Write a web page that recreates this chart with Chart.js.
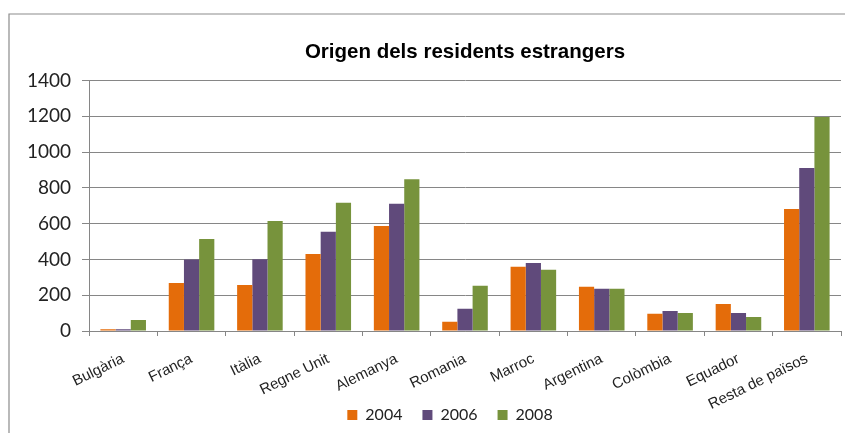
<!DOCTYPE html>
<html>
<head>
<meta charset="utf-8">
<script src="https://cdn.jsdelivr.net/npm/chart.js@4/dist/chart.umd.min.js"></script>
<style>
  html, body { margin: 0; padding: 0; background: #fff; }
  #wrap { width: 845px; height: 433px; position: relative; }
</style>
</head>
<body>
<div id="wrap"><canvas id="chart" width="845" height="433"></canvas></div>
<script>
// dades
const paisos = ["Bulgària", "França", "Itàlia", "Regne Unit", "Alemanya", "Romania",
  "Marroc", "Argentina", "Colòmbia", "Equador", "Resta de països"];
const anys = ["2004", "2006", "2008"];
const valors2004 = [10, 268, 257, 430, 587, 52, 359, 248, 97, 151, 682];
const valors2006 = [10, 400, 401, 555, 711, 125, 380, 236, 112, 101, 911];
const valors2008 = [61, 514, 615, 717, 849, 253, 343, 236, 101, 78, 1197];
const ticksY = [0, 200, 400, 600, 800, 1000, 1200, 1400];

const colors = ["#E46C0A", "#604A7B", "#77933C"];
const gridColor = "#868686";

// marc exterior del gràfic
const framePlugin = {
  id: "frame",
  afterLayout(chart) {
    // les etiquetes girades es retallen a la caixa de l'eix: l'allarguem
    chart.scales.x.bottom = chart.height;
    // llegenda una mica cap a l'esquerra, com l'original
    chart.legend.left -= 15;
    chart.legend.right -= 15;
  },
  beforeDraw(chart) {
    const ctx = chart.ctx;
    ctx.save();
    ctx.strokeStyle = "#8c8c8c";
    ctx.lineWidth = 1.2;
    ctx.beginPath();
    ctx.moveTo(9, chart.height + 2);
    ctx.lineTo(9, 14);
    ctx.lineTo(chart.width + 2, 14);
    ctx.stroke();
    ctx.restore();
  },
};

const ctx = document.getElementById("chart").getContext("2d");
new Chart(ctx, {
  type: "bar",
  data: {
    labels: paisos,
    datasets: [valors2004, valors2006, valors2008].map((d, i) => ({
      label: anys[i],
      data: d,
      backgroundColor: colors[i],
      borderWidth: 0,
      categoryPercentage: 2 / 3,
      barPercentage: 1,
    })),
  },
  options: {
    responsive: false,
    animation: false,
    layout: { padding: { left: 0, right: 4, top: 0, bottom: 0 } },
    plugins: {
      title: {
        display: true,
        text: "Origen dels residents estrangers",
        fullSize: false,
        color: "#000",
        font: { family: "'Liberation Sans', Arial", size: 20.5, weight: "bold" },
        padding: { top: 40, bottom: 16 },
      },
      legend: {
        position: "bottom",
        fullSize: false,
        labels: {
          boxWidth: 10,
          boxHeight: 10,
          padding: 20,
          color: "#222",
          font: { family: "Lato", size: 16 },
        },
      },
      tooltip: { enabled: false },
    },
    scales: {
      x: {
        grid: {
          drawOnChartArea: false,
          drawTicks: true,
          tickLength: 5,
          color: gridColor,
        },
        border: { display: true, color: gridColor },
        ticks: {
          minRotation: 26,
          maxRotation: 26,
          autoSkip: false,
          padding: 14,
          color: "#222",
          font: { family: "'Liberation Sans', Arial", size: 15 },
        },
        afterFit(scale) {
          scale.height = 56;
        },
      },
      y: {
        min: 0,
        max: 1400,
        grid: { color: gridColor, tickLength: 7, drawTicks: true },
        border: { display: true, color: gridColor },
        ticks: {
          stepSize: 200,
          padding: 11,
          color: "#222",
          font: { family: "Lato", size: 19 },
          callback: (v) => String(v),
        },
        afterBuildTicks(scale) {
          scale.ticks = ticksY.map((v) => ({ value: v }));
        },
        afterFit(scale) {
          scale.width = 89;
        },
      },
    },
  },
  plugins: [framePlugin],
});
</script>
</body>
</html>
